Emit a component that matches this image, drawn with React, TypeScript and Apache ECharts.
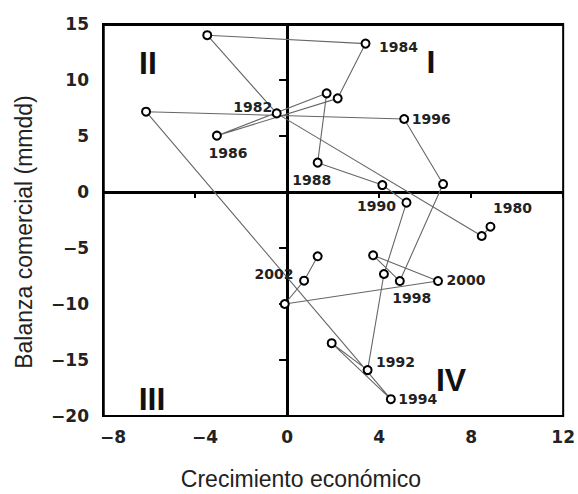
import React, { useEffect, useRef } from "react";
import * as echarts from "echarts";

// Mexico: economic growth (%) vs trade balance (bn USD), 1980–2003
const years = [1980, 1981, 1982, 1983, 1984, 1985, 1986, 1987, 1988, 1989, 1990, 1991, 1992, 1993, 1994, 1995, 1996, 1997, 1998, 1999, 2000, 2001, 2002, 2003];
const growth = [8.84, 8.46, -0.45, -3.47, 3.41, 2.2, -3.05, 1.72, 1.33, 4.14, 5.19, 4.21, 3.5, 1.94, 4.51, -6.13, 5.09, 6.78, 4.9, 3.74, 6.56, -0.1, 0.74, 1.33];
const balance = [-3.1, -3.93, 7.02, 14.0, 13.25, 8.36, 5.03, 8.81, 2.62, 0.62, -0.95, -7.32, -15.9, -13.5, -18.5, 7.17, 6.52, 0.71, -7.95, -5.65, -7.95, -10.0, -7.92, -5.74];
const labeledYears = [1980, 1982, 1984, 1986, 1988, 1990, 1992, 1994, 1996, 1998, 2000, 2002];
const xTicks = [-8, -4, 0, 4, 8, 12];
const yTicks = [-20, -15, -10, -5, 0, 5, 10, 15];
const quadrants = ["II", "I", "III", "IV"];

// label placement (pixel offsets from the marker centre)
const labelOffsets: Record<number, [number, number]> = {
  1980: [22, -19], 1982: [-24, -6], 1984: [33, 3], 1986: [11, 17],
  1988: [-6, 17], 1990: [-30, 3], 1992: [28, -8], 1994: [27, 0],
  1996: [27, 0], 1998: [12, 17], 2000: [28, -1], 2002: [-30, -7],
};
const quadrantPos: [number, number][] = [[148, 63], [431, 62], [152, 399], [451, 380]];

const minus = (v: number) => (v < 0 ? "\u2212" + Math.abs(v) : String(v));

export default function App() {
  const ref = useRef<HTMLDivElement>(null);
  useEffect(() => {
    if (!ref.current) return;
    const chart = echarts.init(ref.current, null, { renderer: "svg" });
    const data = years.map((yr, i) => {
      const item: any = { value: [growth[i], balance[i]] };
      if (labeledYears.includes(yr)) {
        item.label = {
          show: true,
          formatter: String(yr),
          position: "inside",
          offset: labelOffsets[yr],
          color: "#222",
          fontFamily: "DejaVu Sans",
          fontWeight: "bold",
          fontSize: 14,
          align: "center",
          verticalAlign: "middle",
        };
      }
      return item;
    });
    const tickFont = { fontFamily: "DejaVu Sans", fontWeight: "bold" as const, fontSize: 17, color: "#222" };
    chart.setOption({
      animation: false,
      grid: { left: 103, right: 14, top: 24, bottom: 78, show: true, borderColor: "#000", borderWidth: 2 },
      xAxis: {
        type: "value",
        min: xTicks[0],
        max: xTicks[xTicks.length - 1],
        interval: 4,
        axisLine: { show: false },
        axisTick: { show: true, length: 6, lineStyle: { color: "#000", width: 2 } },
        splitLine: { show: false },
        axisLabel: {
          margin: 12,
          ...tickFont,
          formatter: (v: number) => (v < 0 ? `{n|${minus(v)}}` : `{p|${v}}`),
          rich: {
            n: { ...tickFont, padding: [0, 0, 0, 20] },
            p: { ...tickFont },
          },
        },
      },
      yAxis: {
        type: "value",
        min: yTicks[0],
        max: yTicks[yTicks.length - 1],
        interval: 5,
        axisLine: { show: false },
        axisTick: { show: true, length: 8, lineStyle: { color: "#000", width: 2 } },
        splitLine: { show: false },
        axisLabel: { margin: 14, ...tickFont, formatter: (v: number) => minus(v) },
      },
      series: [
        {
          type: "line",
          data,
          symbol: "circle",
          symbolSize: 8,
          showAllSymbol: true,
          lineStyle: { color: "#666", width: 1.1 },
          itemStyle: { color: "#fff", borderColor: "#000", borderWidth: 2 },
          label: { show: false },
          z: 3,
          markLine: {
            silent: true,
            symbol: ["none", "none"],
            label: { show: false },
            lineStyle: { color: "#000", width: 3, type: "solid" },
            data: [{ xAxis: 0 }, { yAxis: 0 }, { yAxis: yTicks[yTicks.length - 1] }, { xAxis: xTicks[0], lineStyle: { width: 2.5 } }],
            z: 2,
          },
        },
      ],
      graphic: [
        ...quadrants.map((q, i) => ({
          type: "text",
          x: quadrantPos[i][0],
          y: quadrantPos[i][1],
          style: {
            text: q,
            font: "bold 32px 'Liberation Sans', Arial, sans-serif",
            fill: "#111",
            align: "center",
            verticalAlign: "middle",
          },
        })),
        {
          type: "text",
          x: 24,
          y: 232,
          rotation: Math.PI / 2,
          style: {
            text: "Balanza comercial (mmdd)",
            font: "23px 'Liberation Sans', Arial, sans-serif",
            fill: "#222",
            align: "center",
            verticalAlign: "middle",
          },
        },
        {
          type: "text",
          x: 301,
          y: 479,
          style: {
            text: "Crecimiento económico",
            font: "23px 'Liberation Sans', Arial, sans-serif",
            fill: "#222",
            align: "center",
            verticalAlign: "middle",
          },
        },
      ],
    });
    return () => chart.dispose();
  }, []);
  return <div ref={ref} style={{ position: "fixed", left: 0, top: 0, width: 578, height: 494, background: "#fff" }} />;
}
